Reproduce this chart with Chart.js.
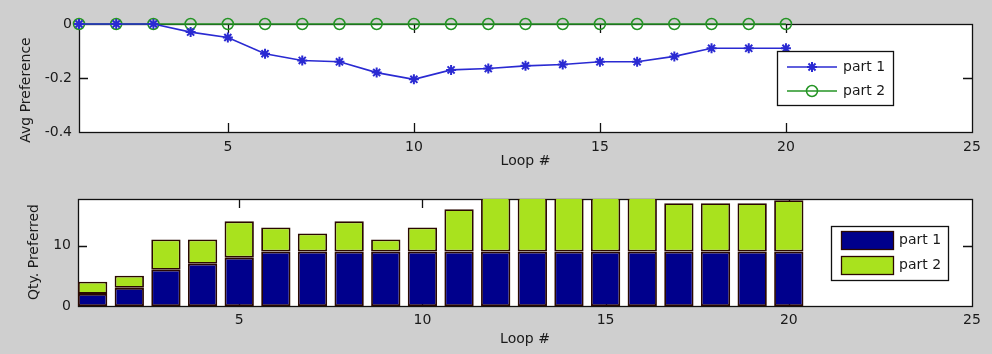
<!DOCTYPE html>
<html>
<head>
<meta charset="utf-8">
<script src="https://cdn.jsdelivr.net/npm/chart.js@4"></script>
<style>
  html, body { margin: 0; padding: 0; background: #cfcfcf; }
  #fig { position: relative; width: 992px; height: 354px; background: #cfcfcf; }
  canvas { position: absolute; left: 0; }
  #avgChart { top: 0; }
  #qtyChart { top: 177px; }
</style>
</head>
<body>
<div id="fig">
  <canvas id="avgChart" width="992" height="177"></canvas>
  <canvas id="qtyChart" width="992" height="177"></canvas>
</div>
<script>
// DATA
const loops = [1, 2, 3, 4, 5, 6, 7, 8, 9, 10, 11, 12, 13, 14, 15, 16, 17, 18, 19, 20];
const seriesNames = ['part 1', 'part 2'];
const avgPart1 = [0, 0, 0, -0.03, -0.05, -0.11, -0.135, -0.14, -0.18, -0.205, -0.17, -0.165, -0.155, -0.15, -0.14, -0.14, -0.12, -0.09, -0.09, -0.09];
const avgPart2 = [0, 0, 0, 0, 0, 0, 0, 0, 0, 0, 0, 0, 0, 0, 0, 0, 0, 0, 0, 0];
const qtyPart1 = [2, 3, 6, 7, 8, 9, 9, 9, 9, 9, 9, 9, 9, 9, 9, 9, 9, 9, 9, 9];
const qtyPart2 = [2, 2, 5, 4, 6, 4, 3, 5, 2, 4, 7, 9, 9, 9, 9, 9, 8, 8, 8, 8.5];
const loopTicks = [5, 10, 15, 20, 25];
const avgTicks = [-0.4, -0.2, 0];
const qtyTicks = [0, 10];

Chart.defaults.font.family = 'DejaVu Sans';
Chart.defaults.font.size = 14;
Chart.defaults.color = '#1a1a1a';
Chart.defaults.animation = false;

const toPoints = (xs, ys) => xs.map((x, i) => ({ x: x, y: ys[i] }));
const setTicks = list => scale => { scale.ticks = list.map(v => ({ value: v })); };

// white plot box, inward ticks, y title and legend, MATLAB style
const matlabAxes = {
  id: 'matlabAxes',
  beforeDraw(chart) {
    const a = chart.chartArea;
    chart.ctx.save();
    chart.ctx.fillStyle = '#fff';
    chart.ctx.fillRect(a.left, a.top, a.right - a.left, a.bottom - a.top);
    chart.ctx.restore();
  },
  beforeDatasetsDraw(chart, args, opts) {
    const { ctx, chartArea: a, scales } = chart;
    const tl = 9;
    ctx.save();
    ctx.strokeStyle = '#111';
    ctx.lineWidth = 1.3;
    ctx.beginPath();
    scales.x.ticks.forEach(t => {
      const px = Math.round(scales.x.getPixelForValue(t.value)) + 0.5;
      if (px < a.left + 2 || px > a.right - 2) return;
      ctx.moveTo(px, a.bottom); ctx.lineTo(px, a.bottom - tl);
      ctx.moveTo(px, a.top); ctx.lineTo(px, a.top + tl);
    });
    scales.y.ticks.forEach(t => {
      const py = Math.round(scales.y.getPixelForValue(t.value)) + 0.5;
      if (py < a.top + 2 || py > a.bottom - 2) return;
      ctx.moveTo(a.left, py); ctx.lineTo(a.left + tl, py);
      ctx.moveTo(a.right, py); ctx.lineTo(a.right - tl, py);
    });
    ctx.stroke();
    ctx.strokeRect(Math.round(a.left) + 0.5, Math.round(a.top) + 0.5,
      Math.round(a.right - a.left), Math.round(a.bottom - a.top));

    // y title
    ctx.translate(opts.titleX, opts.titleY);
    ctx.rotate(-Math.PI / 2);
    ctx.fillStyle = '#1a1a1a';
    ctx.font = '14px "DejaVu Sans"';
    ctx.textAlign = 'center';
    ctx.textBaseline = 'middle';
    ctx.fillText(opts.title, 0, 0);
    ctx.restore();
  },
  afterDraw(chart, args, opts) {
    const ctx = chart.ctx;
    const b = opts.legend;
    ctx.save();
    ctx.fillStyle = '#fff';
    ctx.fillRect(b.x, b.y, b.w, b.h);
    ctx.strokeStyle = '#111';
    ctx.lineWidth = 1.3;
    ctx.strokeRect(b.x + 0.5, b.y + 0.5, b.w, b.h);
    ctx.font = '14px "DejaVu Sans"';
    ctx.textBaseline = 'middle';
    chart.data.datasets.forEach((ds, i) => {
      const cy = b.rowY[i];
      if (chart.config.type === 'line') {
        ctx.strokeStyle = ds.borderColor;
        ctx.lineWidth = ds.borderWidth;
        ctx.beginPath();
        ctx.moveTo(b.x + 10, cy); ctx.lineTo(b.x + 60, cy);
        ctx.stroke();
        ctx.fillStyle = ds.pointBackgroundColor;
        ctx.strokeStyle = ds.borderColor;
        ctx.lineWidth = ds.pointBorderWidth;
        Chart.helpers.drawPoint(ctx, { pointStyle: ds.pointStyle, radius: ds.pointRadius, rotation: 0, borderWidth: ds.pointBorderWidth }, b.x + 35, cy);
        ctx.fillStyle = '#1a1a1a';
        ctx.fillText(ds.label, b.x + 66, cy);
      } else {
        ctx.fillStyle = ds.backgroundColor;
        ctx.fillRect(b.x + 10, cy - 9, 52, 18);
        ctx.strokeStyle = ds.borderColor;
        ctx.lineWidth = 1.3;
        ctx.strokeRect(b.x + 10.5, cy - 8.5, 52, 18);
        ctx.fillStyle = '#1a1a1a';
        ctx.fillText(ds.label, b.x + 68, cy);
      }
    });
    ctx.restore();
  }
};

// TOP: average preference
new Chart(document.getElementById('avgChart'), {
  type: 'line',
  data: {
    datasets: [{
      label: seriesNames[0],
      data: toPoints(loops, avgPart1),
      borderColor: '#2a2ad2',
      borderWidth: 1.6,
      pointStyle: 'star',
      pointRadius: 5,
      pointBorderWidth: 2,
      pointBackgroundColor: '#2a2ad2',
      clip: false
    }, {
      label: seriesNames[1],
      data: toPoints(loops, avgPart2),
      borderColor: '#249424',
      borderWidth: 1.6,
      pointStyle: 'circle',
      pointRadius: 5.5,
      pointBorderWidth: 1.5,
      pointBackgroundColor: 'rgba(0,0,0,0)',
      clip: false
    }]
  },
  options: {
    responsive: false,
    devicePixelRatio: 1,
    layout: { padding: { left: 0, right: 20, top: 24, bottom: 0 } },
    plugins: {
      legend: { display: false },
      tooltip: { enabled: false },
      matlabAxes: {
        title: 'Avg Preference', titleX: 26, titleY: 90,
        legend: { x: 777, y: 51, w: 116, h: 54, rowY: [67, 91] }
      }
    },
    scales: {
      x: {
        type: 'linear', min: 1, max: 25,
        afterBuildTicks: setTicks(loopTicks),
        afterFit: s => { s.height = 45; },
        grid: { display: false, drawTicks: false },
        border: { display: false },
        ticks: { padding: 7, callback: v => String(v) },
        title: { display: true, text: 'Loop #', padding: { top: 0, bottom: 7 } }
      },
      y: {
        min: -0.4, max: 0,
        afterBuildTicks: setTicks(avgTicks),
        afterFit: s => { s.width = 79; },
        grid: { display: false, drawTicks: false },
        border: { display: false },
        ticks: { padding: 7, callback: v => String(v) }
      }
    }
  },
  plugins: [matlabAxes]
});

// BOTTOM: quantity preferred
new Chart(document.getElementById('qtyChart'), {
  type: 'bar',
  data: {
    datasets: [{
      label: seriesNames[0],
      data: toPoints(loops, qtyPart1),
      backgroundColor: '#00008c',
      borderColor: '#2a0800',
      borderWidth: 1.8,
      borderSkipped: false
    }, {
      label: seriesNames[1],
      data: toPoints(loops, qtyPart2),
      backgroundColor: '#a9e21e',
      borderColor: '#2a0800',
      borderWidth: 1.8,
      borderSkipped: false
    }]
  },
  options: {
    responsive: false,
    devicePixelRatio: 1,
    layout: { padding: { left: 0, right: 20, top: 22, bottom: 0 } },
    datasets: { bar: { barPercentage: 0.8, categoryPercentage: 1 } },
    plugins: {
      legend: { display: false },
      tooltip: { enabled: false },
      matlabAxes: {
        title: 'Qty. Preferred', titleX: 34, titleY: 75,
        legend: { x: 831, y: 49, w: 117, h: 54, rowY: [63, 88] }
      }
    },
    scales: {
      x: {
        type: 'linear', min: 0.6, max: 25, stacked: true, offset: false,
        afterBuildTicks: setTicks(loopTicks),
        afterFit: s => { s.height = 48; },
        grid: { display: false, drawTicks: false },
        border: { display: false },
        ticks: { padding: 6, callback: v => String(v) },
        title: { display: true, text: 'Loop #', padding: { top: 0, bottom: 6 } }
      },
      y: {
        min: 0, max: 17.7, stacked: true,
        afterBuildTicks: setTicks(qtyTicks),
        afterFit: s => { s.width = 78; },
        grid: { display: false, drawTicks: false },
        border: { display: false },
        ticks: { padding: 7, callback: v => String(v) }
      }
    }
  },
  plugins: [matlabAxes]
});
</script>
</body>
</html>
